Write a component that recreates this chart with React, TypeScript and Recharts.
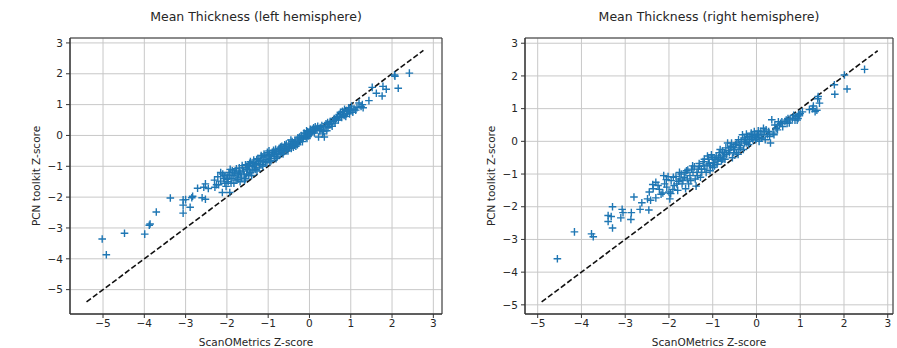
import React from 'react';
import { ScatterChart, Scatter, XAxis, YAxis, CartesianGrid, ReferenceLine, ReferenceArea } from 'recharts';

const tickValues = [-5, -4, -3, -2, -1, 0, 1, 2, 3];

const leftTitle = 'Mean Thickness (left hemisphere)';
const rightTitle = 'Mean Thickness (right hemisphere)';
const xLabel = 'ScanOMetrics Z-score';
const yLabel = 'PCN toolkit Z-score';

const leftPoints: [number, number][] = [
  [-5.02, -3.36], [-4.92, -3.87], [-4.48, -3.17], [-3.99, -3.2], [-3.88, -2.91], [-3.86, -2.87], [-3.71, -2.48],
  [-3.37, -2.03], [-3.06, -2.09], [-3.0, -2.08], [-3.06, -2.26], [-3.06, -2.52], [-2.89, -2.33], [-2.85, -2.02],
  [-2.83, -1.97], [-2.6, -2.02], [-2.52, -2.07], [-2.71, -1.71], [-2.56, -1.68], [-2.52, -1.57], [-2.45, -1.72],
  [-2.29, -1.68], [-2.25, -1.6], [-2.11, -1.85], [-2.22, -1.34], [-1.93, -1.85], [-2.15, -1.48], [-2.05, -1.3],
  [-2.0, -1.42], [-1.95, -1.2], [-1.9, -1.55], [-1.85, -1.3], [-1.8, -1.15], [-1.78, -1.45], [-1.72, -1.25],
  [-1.7, -1.05], [-1.65, -1.35], [-1.6, -1.15], [-1.55, -0.95], [-1.52, -1.25], [-1.5, -1.1], [-1.45, -0.9],
  [-1.42, -1.2], [-1.38, -1.0], [-1.35, -0.8], [-1.3, -1.1], [-1.28, -0.92], [-1.25, -0.75], [-1.2, -0.95],
  [-1.15, -0.7], [-1.12, -0.85], [-1.1, -0.6], [-1.05, -0.78], [-1.0, -0.65], [-0.98, -0.5], [-0.95, -0.75],
  [-0.9, -0.55], [-0.85, -0.68], [-0.82, -0.45], [-0.8, -0.6], [-0.75, -0.5], [-0.7, -0.38], [-0.68, -0.55],
  [-0.62, -0.42], [-0.6, -0.3], [-0.55, -0.45], [-0.5, -0.25], [-0.48, -0.38], [-0.42, -0.2], [-0.4, -0.32],
  [-0.35, -0.15], [-0.3, -0.25], [-0.28, -0.08], [-0.22, -0.18], [-0.2, 0.0], [-0.15, -0.1], [-0.1, 0.05],
  [-0.08, -0.05], [-0.05, 0.12], [0.0, 0.02], [0.02, 0.2], [0.05, 0.1], [0.1, 0.25], [0.12, 0.08], [0.15, 0.18],
  [0.2, 0.3], [0.22, -0.05], [0.25, 0.15], [0.3, 0.32], [0.34, 0.13], [0.36, -0.05], [0.4, 0.38], [0.45, 0.25],
  [0.5, 0.45], [0.55, 0.3], [0.6, 0.55], [0.62, 0.4], [0.68, 0.62], [0.7, 0.5], [0.75, 0.75], [0.78, 0.58],
  [0.82, 0.7], [0.85, 0.85], [0.88, 0.62], [0.92, 0.78], [0.95, 0.9], [0.97, 0.7], [1.0, 0.82], [1.02, 0.95],
  [1.05, 0.75], [1.2, 1.05], [1.25, 0.94], [1.3, 0.9], [1.44, 1.13], [1.52, 1.56], [1.62, 1.37], [1.76, 1.28],
  [1.78, 1.59], [1.86, 1.5], [2.06, 1.96], [2.07, 1.92], [2.15, 1.53], [2.42, 2.02],
  [-2.1, -1.25], [-2.05, -1.55], [-1.98, -1.35], [-1.92, -1.1], [-1.88, -1.4], [-1.82, -1.22], [-1.75, -1.35],
  [-1.7, -1.18], [-1.68, -1.5], [-1.62, -1.05], [-1.58, -1.28], [-1.55, -1.4], [-1.48, -0.98], [-1.45, -1.15],
  [-1.4, -1.3], [-1.36, -0.88], [-1.33, -1.05], [-1.28, -0.78], [-1.22, -1.05], [-1.18, -0.82], [-1.14, -0.95],
  [-1.08, -0.7], [-1.03, -0.88], [-0.97, -0.62], [-0.93, -0.82], [-0.88, -0.6], [-0.83, -0.52], [-0.78, -0.7],
  [-0.73, -0.42], [-0.66, -0.48], [-0.64, -0.6], [-0.58, -0.35], [-0.52, -0.5], [-0.46, -0.3], [-0.44, -0.42],
  [-0.38, -0.25], [-0.33, -0.35], [-0.26, -0.2], [-0.24, -0.05], [-0.18, -0.12], [-0.12, 0.0], [-0.06, -0.1],
  [0.03, 0.05], [0.08, 0.15], [0.18, 0.22], [0.28, 0.2], [0.38, 0.3], [0.42, 0.15], [0.48, 0.35], [0.58, 0.48],
  [0.65, 0.55], [0.72, 0.68], [0.8, 0.78], [0.9, 0.7], [0.98, 0.85], [1.08, 0.85], [1.15, 0.9],
  [-2.3, -1.45], [-2.2, -1.6], [-2.15, -1.2], [-2.08, -1.4], [-2.02, -1.65], [-1.97, -1.5], [-1.93, -1.28],
  [-1.87, -1.15], [-1.83, -1.55], [-1.77, -1.08], [-1.73, -1.42], [-1.67, -1.22], [-1.63, -0.98], [-1.57, -1.45],
  [-1.53, -1.05], [-1.47, -1.3], [-1.43, -0.85], [-1.37, -1.12], [-1.32, -0.95], [-1.27, -1.15], [-1.23, -0.85],
  [-1.17, -0.65], [-1.13, -1.0], [-1.07, -0.88], [-1.02, -0.55], [-0.96, -0.85], [-0.92, -0.65], [-0.87, -0.48],
  [-0.81, -0.75], [-0.76, -0.58], [-0.71, -0.62], [-0.67, -0.35], [-0.61, -0.52], [-0.56, -0.28], [-0.51, -0.4],
  [-0.45, -0.15], [-0.39, -0.38], [-0.34, -0.22], [-0.29, -0.3], [-0.23, -0.1], [-0.17, -0.2], [-0.13, 0.08],
  [-0.07, 0.15], [-0.03, -0.02], [0.07, 0.2], [0.14, 0.28], [0.26, 0.26], [0.32, 0.05], [0.44, 0.42], [0.53, 0.38],
  [0.63, 0.5], [0.74, 0.6], [0.84, 0.65], [0.94, 0.8], [1.12, 0.82], [1.28, 1.0],
];

const rightPoints: [number, number][] = [
  [-4.55, -3.59], [-4.16, -2.77], [-3.77, -2.83], [-3.73, -2.92], [-3.39, -2.45], [-3.39, -2.27], [-3.29, -2.0],
  [-3.29, -2.65], [-3.32, -2.3], [-3.1, -2.34], [-3.05, -2.18], [-3.07, -2.08], [-2.87, -2.39], [-2.86, -2.18],
  [-2.8, -1.7], [-2.66, -2.08], [-2.62, -1.88], [-2.49, -1.76], [-2.46, -2.1], [-2.42, -1.8], [-2.37, -1.32],
  [-2.36, -1.45], [-2.3, -1.73], [-2.22, -1.47], [-2.14, -1.58], [-2.18, -1.62], [-2.06, -1.17], [-2.02, -1.08],
  [-1.98, -1.76], [-1.91, -1.47], [-1.84, -1.07], [-1.78, -1.22], [-1.72, -1.0], [-1.63, -0.95], [-1.58, -1.15],
  [-1.55, -1.3], [-1.48, -0.85], [-1.38, -1.37], [-1.42, -0.78], [-1.35, -1.05], [-1.3, -0.76], [-1.25, -0.95],
  [-1.22, -0.62], [-1.18, -0.85], [-1.12, -0.45], [-1.08, -0.68], [-1.03, -0.41], [-1.0, -0.8], [-0.95, -0.55],
  [-0.9, -0.7], [-0.85, -0.35], [-0.8, -0.6], [-0.75, -0.45], [-0.7, -0.2], [-0.66, -0.05], [-0.62, -0.35],
  [-0.58, -0.15], [-0.55, -0.5], [-0.5, -0.25], [-0.45, -0.05], [-0.42, -0.4], [-0.38, -0.12], [-0.32, 0.2],
  [-0.3, -0.25], [-0.25, 0.05], [-0.2, 0.15], [-0.18, -0.1], [-0.12, 0.25], [-0.08, 0.05], [-0.05, 0.3],
  [0.0, 0.12], [0.02, 0.2], [0.06, 0.0], [0.1, 0.3], [0.15, 0.2], [0.2, 0.05], [0.22, 0.35], [0.3, 0.15],
  [0.35, 0.66], [0.38, 0.25], [0.42, 0.5], [0.48, 0.35], [0.55, 0.55], [0.6, 0.45], [0.68, 0.65], [0.7, 0.55],
  [0.75, 0.56], [0.82, 0.7], [0.9, 0.76], [0.93, 0.65], [0.96, 0.82], [1.0, 0.85], [1.21, 0.97], [1.28, 1.0],
  [1.34, 0.91], [1.38, 0.95], [1.41, 1.37], [1.44, 1.17], [1.78, 1.73], [1.79, 1.44], [2.01, 2.03], [2.07, 1.6],
  [2.47, 2.2],
  [-2.1, -1.3], [-2.0, -1.55], [-1.95, -1.2], [-1.88, -1.35], [-1.8, -1.5], [-1.75, -1.15], [-1.7, -1.3],
  [-1.65, -1.1], [-1.6, -0.9], [-1.52, -1.05], [-1.45, -0.95], [-1.4, -1.15], [-1.33, -0.85], [-1.28, -1.1],
  [-1.2, -0.75], [-1.15, -0.95], [-1.1, -0.55], [-1.05, -0.75], [-0.98, -0.65], [-0.92, -0.45], [-0.88, -0.6],
  [-0.82, -0.5], [-0.78, -0.3], [-0.72, -0.55], [-0.68, -0.4], [-0.6, -0.2], [-0.52, -0.35], [-0.48, -0.1],
  [-0.4, -0.25], [-0.35, 0.0], [-0.28, 0.1], [-0.22, -0.05], [-0.15, 0.15], [-0.1, 0.2], [-0.02, 0.05],
  [0.05, 0.25], [0.12, 0.1], [0.18, 0.3], [0.25, 0.2], [0.45, 0.4], [0.52, 0.5], [0.65, 0.6], [0.72, 0.7],
  [0.85, 0.8], [0.95, 0.7], [1.05, 0.9], [0.98, 0.78],
  [-2.45, -1.55], [-2.3, -1.25], [-2.25, -1.35], [-2.12, -1.05], [-2.05, -1.4], [-1.96, -1.6], [-1.9, -1.1],
  [-1.82, -1.3], [-1.76, -0.95], [-1.68, -1.2], [-1.62, -1.45], [-1.57, -0.88], [-1.5, -1.2], [-1.46, -0.75],
  [-1.36, -0.95], [-1.31, -0.68], [-1.26, -0.85], [-1.19, -0.55], [-1.13, -0.72], [-1.06, -0.9], [-1.01, -0.5],
  [-0.96, -0.75], [-0.87, -0.5], [-0.83, -0.25], [-0.77, -0.55], [-0.73, -0.35], [-0.64, -0.28], [-0.57, -0.05],
  [-0.53, -0.18], [-0.46, -0.35], [-0.41, 0.05], [-0.36, -0.2], [-0.27, -0.05], [-0.23, 0.22], [-0.16, 0.0],
  [-0.11, 0.1], [-0.04, 0.18], [0.04, 0.32], [0.08, 0.1], [0.16, 0.4], [0.28, 0.3], [0.32, -0.05], [0.4, 0.2],
  [0.5, 0.6], [0.58, 0.6], [0.77, 0.68], [0.88, 0.65], [1.3, 1.08], [1.4, 1.3],
];

const leftXDomain: [number, number] = [-5.8, 3.21];
const leftYDomain: [number, number] = [-5.79, 3.16];
const leftDiag: [number, number] = [-5.4, 2.76];
const rightXDomain: [number, number] = [-5.29, 3.12];
const rightYDomain: [number, number] = [-5.28, 3.16];
const rightDiag: [number, number] = [-4.91, 2.77];

const FONT = '"DejaVu Sans", sans-serif';
const TEXT = '#262626';
const BLUE = '#1f77b4';

const fmt = (v: number) => String(v).replace('-', '\u2212');

const Plus = (props: any) => {
  const { cx, cy } = props;
  if (cx == null || cy == null) return null;
  const s = 3.8;
  return (
    <path
      d={`M${cx - s},${cy}H${cx + s}M${cx},${cy - s}V${cy + s}`}
      stroke={BLUE}
      strokeWidth={1.4}
      fill="none"
    />
  );
};

type PanelProps = {
  title: string;
  points: [number, number][];
  xDomain: [number, number];
  yDomain: [number, number];
  diag: [number, number];
  left: number;
  width: number;
  yAxisWidth: number;
  marginRight: number;
  yLabelX: number;
};

const Panel = ({ title, points, xDomain, yDomain, diag, left, width, yAxisWidth, marginRight, yLabelX }: PanelProps) => {
  const data = points.map(([x, y]) => ({ x, y }));
  const plotWidth = width - yAxisWidth - marginRight;
  return (
    <div style={{ position: 'absolute', left, top: 0, width, height: 348 }}>
      <div
        style={{
          position: 'absolute',
          left: yAxisWidth,
          width: plotWidth,
          top: 9,
          textAlign: 'center',
          fontFamily: FONT,
          fontSize: 12.5,
          color: TEXT,
          lineHeight: '15px',
          whiteSpace: 'nowrap',
        }}
      >
        {title}
      </div>
      <ScatterChart width={width} height={348} margin={{ top: 38, right: marginRight, bottom: 0, left: 0 }}>
        <CartesianGrid stroke="#c8c8c8" strokeWidth={1} />
        <XAxis
          type="number"
          dataKey="x"
          domain={xDomain}
          ticks={tickValues}
          allowDataOverflow
          height={34}
          tickFormatter={fmt}
          tickSize={4}
          tickMargin={2}
          tick={{ fill: TEXT, fontSize: 10.5, fontFamily: FONT }}
          tickLine={{ stroke: '#333' }}
          axisLine={{ stroke: '#333' }}
          label={{ value: xLabel, position: 'insideBottom', offset: 2, fill: TEXT, fontSize: 10.5, fontFamily: FONT }}
        />
        <YAxis
          type="number"
          dataKey="y"
          domain={yDomain}
          ticks={tickValues}
          allowDataOverflow
          width={yAxisWidth}
          tickFormatter={fmt}
          tickSize={4}
          tickMargin={3}
          tick={{ fill: TEXT, fontSize: 10.5, fontFamily: FONT }}
          tickLine={{ stroke: '#333' }}
          axisLine={{ stroke: '#333' }}
          label={{
            value: yLabel,
            angle: -90,
            position: 'insideLeft',
            offset: yLabelX,
            fill: TEXT,
            fontSize: 10.5,
            fontFamily: FONT,
            style: { textAnchor: 'middle' },
          }}
        />
        <ReferenceArea
          x1={xDomain[0]}
          x2={xDomain[1]}
          y1={yDomain[0]}
          y2={yDomain[1]}
          fill="none"
          fillOpacity={0}
          stroke="#333"
          strokeWidth={1}
        />
        <Scatter data={data} shape={Plus} isAnimationActive={false} />
        <ReferenceLine
          segment={[
            { x: diag[0], y: diag[0] },
            { x: diag[1], y: diag[1] },
          ]}
          stroke="#111"
          strokeWidth={1.6}
          strokeDasharray="5.5 2.5"
        />
      </ScatterChart>
    </div>
  );
};

export default function App() {
  return (
    <div style={{ position: 'absolute', left: 0, top: 0, width: 897, height: 348, background: '#fff', overflow: 'hidden' }}>
      <Panel
        title={leftTitle}
        points={leftPoints}
        xDomain={leftXDomain}
        yDomain={leftYDomain}
        diag={leftDiag}
        left={0}
        width={448}
        yAxisWidth={70}
        marginRight={6}
        yLabelX={36}
      />
      <Panel
        title={rightTitle}
        points={rightPoints}
        xDomain={rightXDomain}
        yDomain={rightYDomain}
        diag={rightDiag}
        left={450}
        width={447}
        yAxisWidth={75}
        marginRight={4}
        yLabelX={41}
      />
    </div>
  );
}
